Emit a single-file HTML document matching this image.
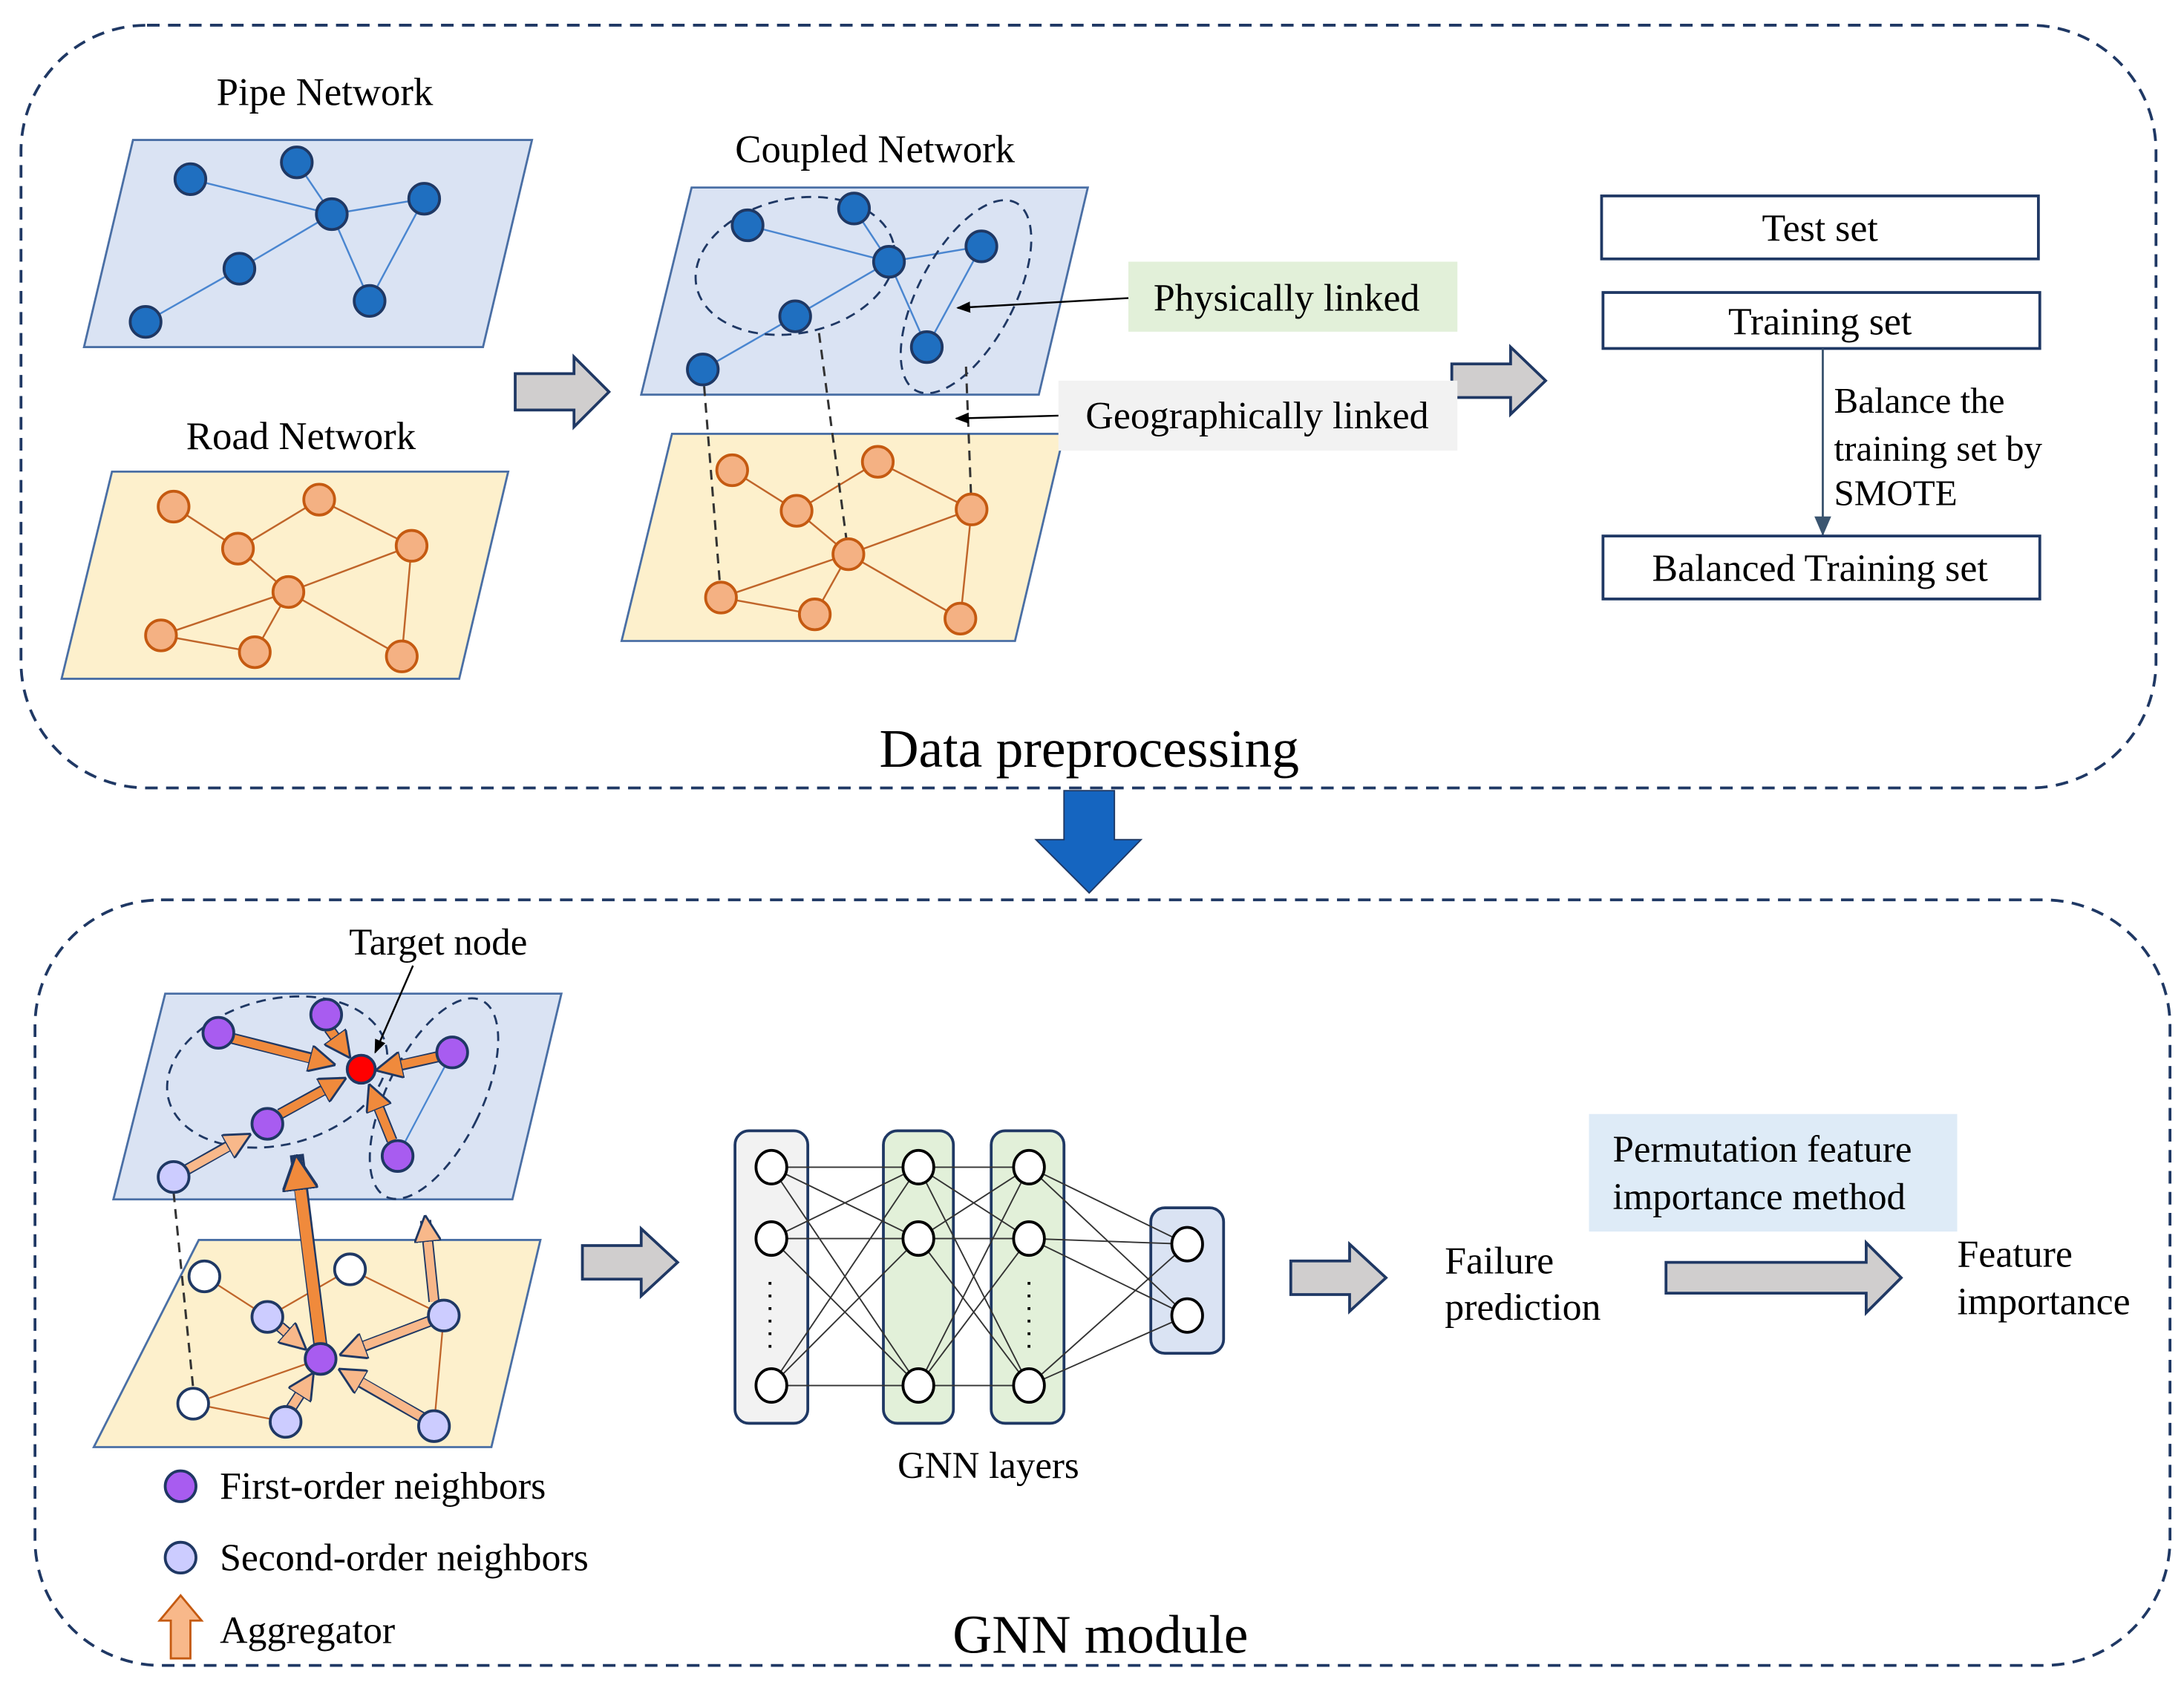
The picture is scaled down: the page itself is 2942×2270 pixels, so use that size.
<!DOCTYPE html>
<html><head><meta charset="utf-8"><style>html,body{margin:0;padding:0;background:#fff}svg{display:block}</style></head>
<body>
<svg width="2942" height="2270" viewBox="0 0 1560 1204" preserveAspectRatio="none" xmlns="http://www.w3.org/2000/svg" font-family="'Liberation Serif', serif" fill="#000">
<defs>
<marker id="ah" markerWidth="10" markerHeight="10" refX="9" refY="5" orient="auto" markerUnits="userSpaceOnUse"><path d="M0,1 L10,5 L0,9 Z" fill="#000"/></marker>
<marker id="ab" markerWidth="14" markerHeight="14" refX="13" refY="7" orient="auto" markerUnits="userSpaceOnUse"><path d="M0,1 L14,7 L0,13 Z" fill="#3b5570"/></marker>
<marker id="ao" viewBox="0 0 10 10" markerWidth="3.2" markerHeight="3.2" refX="8" refY="5" orient="auto"><path d="M0,0 L10,5 L0,10 Z" fill="#f08a3c" stroke="#1f3864" stroke-width="0.8"/></marker>
<marker id="al" viewBox="0 0 10 10" markerWidth="3.2" markerHeight="3.2" refX="8" refY="5" orient="auto"><path d="M0,0 L10,5 L0,10 Z" fill="#f8b88a" stroke="#1f3864" stroke-width="0.8"/></marker>
</defs>

<rect x="15" y="18" width="1525" height="545" rx="90" fill="none" stroke="#1f3864" stroke-width="2" stroke-dasharray="9,6"/>
<rect x="25" y="643" width="1525" height="547" rx="90" fill="none" stroke="#1f3864" stroke-width="2" stroke-dasharray="9,6"/>

<text x="232" y="75" font-size="28" text-anchor="middle">Pipe Network</text>
<polygon points="95,100 380,100 345,248 60,248" fill="#dae3f3" stroke="#4a6fa5" stroke-width="1.5"/>
<g stroke="#4a86d0" stroke-width="1.3">
<line x1="136" y1="128" x2="237" y2="153"/><line x1="212" y1="116" x2="237" y2="153"/><line x1="237" y1="153" x2="303" y2="142"/><line x1="237" y1="153" x2="171" y2="192"/><line x1="171" y1="192" x2="104" y2="230"/><line x1="237" y1="153" x2="264" y2="215"/><line x1="264" y1="215" x2="303" y2="142"/>
</g>
<g fill="#1f6fc0" stroke="#1f3864" stroke-width="2">
<circle cx="136" cy="128" r="11"/><circle cx="212" cy="116" r="11"/><circle cx="237" cy="153" r="11"/><circle cx="303" cy="142" r="11"/><circle cx="171" cy="192" r="11"/><circle cx="264" cy="215" r="11"/><circle cx="104" cy="230" r="11"/>
</g>

<text x="215" y="321" font-size="28" text-anchor="middle">Road Network</text>
<polygon points="80,337 363,337 328,485 44,485" fill="#fdf0cc" stroke="#4a6fa5" stroke-width="1.5"/>
<g stroke="#c0652a" stroke-width="1.3">
<line x1="124" y1="362" x2="170" y2="392"/><line x1="170" y1="392" x2="228" y2="357"/><line x1="228" y1="357" x2="294" y2="390"/><line x1="170" y1="392" x2="206" y2="423"/><line x1="206" y1="423" x2="115" y2="454"/><line x1="206" y1="423" x2="182" y2="466"/><line x1="206" y1="423" x2="294" y2="390"/><line x1="206" y1="423" x2="287" y2="469"/><line x1="294" y1="390" x2="287" y2="469"/><line x1="115" y1="454" x2="182" y2="466"/>
</g>
<g fill="#f4b183" stroke="#c55a11" stroke-width="2">
<circle cx="124" cy="362" r="11"/><circle cx="228" cy="357" r="11"/><circle cx="170" cy="392" r="11"/><circle cx="294" cy="390" r="11"/><circle cx="206" cy="423" r="11"/><circle cx="115" cy="454" r="11"/><circle cx="182" cy="466" r="11"/><circle cx="287" cy="469" r="11"/>
</g>

<polygon points="368,267 410,267 410,255 435,280 410,305 410,293 368,293" fill="#d0cece" stroke="#1f3864" stroke-width="2"/>
<polygon points="1037,260 1079,260 1079,248 1104,272 1079,296 1079,284 1037,284" fill="#d0cece" stroke="#1f3864" stroke-width="2"/>

<text x="625" y="116" font-size="28" text-anchor="middle">Coupled Network</text>
<polygon points="480,310 760,310 725,458 444,458" fill="#fdf0cc" stroke="#4a6fa5" stroke-width="1.5"/>
<polygon points="494,134 777,134 742,282 458,282" fill="#dae3f3" stroke="#4a6fa5" stroke-width="1.5"/>
<g stroke="#4a86d0" stroke-width="1.3">
<line x1="534" y1="161" x2="635" y2="187"/><line x1="610" y1="149" x2="635" y2="187"/><line x1="635" y1="187" x2="701" y2="176"/><line x1="635" y1="187" x2="568" y2="226"/><line x1="568" y1="226" x2="502" y2="264"/><line x1="635" y1="187" x2="662" y2="248"/><line x1="662" y1="248" x2="701" y2="176"/>
</g>
<ellipse cx="568" cy="190" rx="72" ry="48" transform="rotate(-12 568 190)" fill="none" stroke="#1f3864" stroke-width="1.5" stroke-dasharray="7,5"/>
<ellipse cx="690" cy="212" rx="34" ry="76" transform="rotate(28 690 212)" fill="none" stroke="#1f3864" stroke-width="1.5" stroke-dasharray="7,5"/>
<g stroke="#c0652a" stroke-width="1.3">
<line x1="523" y1="336" x2="569" y2="365"/><line x1="569" y1="365" x2="627" y2="330"/><line x1="627" y1="330" x2="694" y2="364"/><line x1="569" y1="365" x2="606" y2="396"/><line x1="606" y1="396" x2="515" y2="427"/><line x1="606" y1="396" x2="582" y2="439"/><line x1="606" y1="396" x2="694" y2="364"/><line x1="606" y1="396" x2="686" y2="442"/><line x1="694" y1="364" x2="686" y2="442"/><line x1="515" y1="427" x2="582" y2="439"/>
</g>
<g stroke="#333" stroke-width="1.6" stroke-dasharray="7,5">
<line x1="502" y1="264" x2="515" y2="427"/><line x1="585" y1="238" x2="606" y2="396"/><line x1="690" y1="262" x2="694" y2="364"/>
</g>
<g fill="#1f6fc0" stroke="#1f3864" stroke-width="2">
<circle cx="534" cy="161" r="11"/><circle cx="610" cy="149" r="11"/><circle cx="635" cy="187" r="11"/><circle cx="701" cy="176" r="11"/><circle cx="568" cy="226" r="11"/><circle cx="662" cy="248" r="11"/><circle cx="502" cy="264" r="11"/>
</g>
<g fill="#f4b183" stroke="#c55a11" stroke-width="2">
<circle cx="523" cy="336" r="11"/><circle cx="627" cy="330" r="11"/><circle cx="569" cy="365" r="11"/><circle cx="694" cy="364" r="11"/><circle cx="606" cy="396" r="11"/><circle cx="515" cy="427" r="11"/><circle cx="582" cy="439" r="11"/><circle cx="686" cy="442" r="11"/>
</g>
<rect x="806" y="187" width="235" height="50" fill="#e2f0d9"/>
<text x="919" y="222" font-size="27.5" text-anchor="middle">Physically linked</text>
<line x1="806" y1="213" x2="684" y2="220" stroke="#000" stroke-width="1.3" marker-end="url(#ah)"/>
<rect x="756" y="272" width="285" height="50" fill="#f2f2f2"/>
<text x="898" y="306" font-size="27.5" text-anchor="middle">Geographically linked</text>
<line x1="756" y1="297" x2="683" y2="299" stroke="#000" stroke-width="1.3" marker-end="url(#ah)"/>

<rect x="1144" y="140" width="312" height="45" fill="#fff" stroke="#1f3864" stroke-width="2"/>
<text x="1300" y="172" font-size="27.5" text-anchor="middle">Test set</text>
<rect x="1145" y="209" width="312" height="40" fill="#fff" stroke="#1f3864" stroke-width="2"/>
<text x="1300" y="239" font-size="27.5" text-anchor="middle">Training set</text>
<line x1="1302" y1="249" x2="1302" y2="382" stroke="#3b5570" stroke-width="1.5" marker-end="url(#ab)"/>
<text font-size="26"><tspan x="1310" y="295">Balance the</tspan><tspan x="1310" y="329">training set by</tspan><tspan x="1310" y="361">SMOTE</tspan></text>
<rect x="1145" y="383" width="312" height="45" fill="#fff" stroke="#1f3864" stroke-width="2"/>
<text x="1300" y="415" font-size="27.5" text-anchor="middle">Balanced Training set</text>

<text x="778" y="548" font-size="39" text-anchor="middle">Data preprocessing</text>

<polygon points="760,565 796,565 796,600 815,600 778,638 740,600 760,600" fill="#1565c0" stroke="#1f3864" stroke-width="1"/>

<text x="313" y="682" font-size="27" text-anchor="middle">Target node</text>
<polygon points="142,886 386,886 351,1034 67,1034" fill="#fdf0cc" stroke="#4a6fa5" stroke-width="1.5"/>
<polygon points="118,710 401,710 366,857 81,857" fill="#dae3f3" stroke="#4a6fa5" stroke-width="1.5"/>
<line x1="284" y1="826" x2="323" y2="752" stroke="#4a86d0" stroke-width="1.2"/>
<ellipse cx="198" cy="766" rx="80" ry="52" transform="rotate(-14 198 766)" fill="none" stroke="#1f3864" stroke-width="1.5" stroke-dasharray="7,5"/>
<ellipse cx="310" cy="785" rx="34" ry="78" transform="rotate(26 310 785)" fill="none" stroke="#1f3864" stroke-width="1.5" stroke-dasharray="7,5"/>
<g stroke="#c0652a" stroke-width="1.2">
<line x1="146" y1="912" x2="191" y2="941"/><line x1="191" y1="941" x2="250" y2="907"/><line x1="250" y1="907" x2="317" y2="940"/><line x1="229" y1="971" x2="138" y2="1003"/><line x1="138" y1="1003" x2="204" y2="1016"/><line x1="317" y1="940" x2="310" y2="1019"/>
</g>
<line x1="124" y1="852" x2="138" y2="992" stroke="#333" stroke-width="1.6" stroke-dasharray="7,5"/>
<line x1="229" y1="962" x2="212" y2="825" stroke="#1f3864" stroke-width="10"/>
<line x1="229" y1="962" x2="212" y2="830" stroke="#f08a3c" stroke-width="8" marker-end="url(#ao)"/>
<line x1="310" y1="930" x2="304" y2="872" stroke="#1f3864" stroke-width="8"/>
<line x1="310" y1="930" x2="304" y2="872" stroke="#f8b88a" stroke-width="6" marker-end="url(#al)"/>
<g stroke-width="8" stroke="#1f3864">
<line x1="166" y1="742" x2="230" y2="758"/><line x1="235" y1="735" x2="245" y2="749"/><line x1="313" y1="755" x2="278" y2="763"/><line x1="200" y1="796" x2="238" y2="775"/><line x1="280" y1="815" x2="268" y2="785"/><line x1="133" y1="836" x2="170" y2="815"/><line x1="200" y1="948" x2="212" y2="958"/><line x1="307" y1="944" x2="252" y2="965"/><line x1="208" y1="1006" x2="219" y2="989"/><line x1="302" y1="1013" x2="251" y2="984"/>
</g>
<g stroke-width="6">
<line x1="166" y1="742" x2="236" y2="760" stroke="#f08a3c" marker-end="url(#ao)"/>
<line x1="235" y1="735" x2="248" y2="753" stroke="#f08a3c" marker-end="url(#ao)"/>
<line x1="313" y1="755" x2="272" y2="764" stroke="#f08a3c" marker-end="url(#ao)"/>
<line x1="200" y1="796" x2="244" y2="772" stroke="#f08a3c" marker-end="url(#ao)"/>
<line x1="280" y1="815" x2="265" y2="778" stroke="#f08a3c" marker-end="url(#ao)"/>
<line x1="133" y1="836" x2="176" y2="812" stroke="#f8b88a" marker-end="url(#al)"/>
<line x1="200" y1="948" x2="216" y2="962" stroke="#f8b88a" marker-end="url(#al)"/>
<line x1="307" y1="944" x2="246" y2="967" stroke="#f8b88a" marker-end="url(#al)"/>
<line x1="208" y1="1006" x2="222" y2="984" stroke="#f8b88a" marker-end="url(#al)"/>
<line x1="302" y1="1013" x2="245" y2="980" stroke="#f8b88a" marker-end="url(#al)"/>
</g>
<g stroke="#1f3864" stroke-width="2">
<circle cx="146" cy="912" r="11" fill="#fff"/><circle cx="250" cy="907" r="11" fill="#fff"/><circle cx="138" cy="1003" r="11" fill="#fff"/>
<g fill="#ccccff"><circle cx="191" cy="941" r="11"/><circle cx="317" cy="940" r="11"/><circle cx="204" cy="1016" r="11"/><circle cx="310" cy="1019" r="11"/><circle cx="124" cy="841" r="11"/></g>
<g fill="#a85cf0"><circle cx="229" cy="971" r="11"/><circle cx="156" cy="738" r="11"/><circle cx="233" cy="725" r="11"/><circle cx="323" cy="752" r="11"/><circle cx="191" cy="803" r="11"/><circle cx="284" cy="826" r="11"/></g>
<circle cx="258" cy="764" r="10" fill="#ff0000"/>
</g>
<line x1="295" y1="690" x2="268" y2="752" stroke="#000" stroke-width="1.3" marker-end="url(#ah)"/>

<circle cx="129" cy="1062" r="11" fill="#a85cf0" stroke="#1f3864" stroke-width="2"/>
<text x="157" y="1071" font-size="27.5">First-order neighbors</text>
<circle cx="129" cy="1113" r="11" fill="#ccccff" stroke="#1f3864" stroke-width="2"/>
<text x="157" y="1122" font-size="27.5">Second-order neighbors</text>
<polygon points="129,1140 144,1158 136,1158 136,1185 122,1185 122,1158 114,1158" fill="#f8b88a" stroke="#c55a11" stroke-width="1.5"/>
<text x="157" y="1174" font-size="27.5">Aggregator</text>

<polygon points="416,890 458,890 458,878 484,902 458,926 458,914 416,914" fill="#d0cece" stroke="#1f3864" stroke-width="2"/>
<polygon points="922,901 964,901 964,889 990,913 964,937 964,925 922,925" fill="#d0cece" stroke="#1f3864" stroke-width="2"/>
<polygon points="1190,902 1333,902 1333,888 1358,913 1333,938 1333,924 1190,924" fill="#d0cece" stroke="#1f3864" stroke-width="2"/>

<rect x="525" y="808" width="52" height="209" rx="10" fill="#f2f2f2" stroke="#1f3864" stroke-width="2"/>
<rect x="631" y="808" width="50" height="209" rx="10" fill="#e2f0d9" stroke="#1f3864" stroke-width="2"/>
<rect x="708" y="808" width="52" height="209" rx="10" fill="#e2f0d9" stroke="#1f3864" stroke-width="2"/>
<rect x="822" y="863" width="52" height="104" rx="10" fill="#dae3f3" stroke="#1f3864" stroke-width="2"/>
<g stroke="#333" stroke-width="1">
<line x1="551" y1="834" x2="656" y2="834"/><line x1="551" y1="834" x2="656" y2="885"/><line x1="551" y1="834" x2="656" y2="990"/>
<line x1="551" y1="885" x2="656" y2="834"/><line x1="551" y1="885" x2="656" y2="885"/><line x1="551" y1="885" x2="656" y2="990"/>
<line x1="551" y1="990" x2="656" y2="834"/><line x1="551" y1="990" x2="656" y2="885"/><line x1="551" y1="990" x2="656" y2="990"/>
<line x1="656" y1="834" x2="735" y2="834"/><line x1="656" y1="834" x2="735" y2="885"/><line x1="656" y1="834" x2="735" y2="990"/>
<line x1="656" y1="885" x2="735" y2="834"/><line x1="656" y1="885" x2="735" y2="885"/><line x1="656" y1="885" x2="735" y2="990"/>
<line x1="656" y1="990" x2="735" y2="834"/><line x1="656" y1="990" x2="735" y2="885"/><line x1="656" y1="990" x2="735" y2="990"/>
<line x1="735" y1="834" x2="848" y2="889"/><line x1="735" y1="834" x2="848" y2="940"/>
<line x1="735" y1="885" x2="848" y2="889"/><line x1="735" y1="885" x2="848" y2="940"/>
<line x1="735" y1="990" x2="848" y2="889"/><line x1="735" y1="990" x2="848" y2="940"/>
</g>
<g fill="#fff" stroke="#000" stroke-width="2">
<ellipse cx="551" cy="834" rx="11" ry="12"/><ellipse cx="551" cy="885" rx="11" ry="12"/><ellipse cx="551" cy="990" rx="11" ry="12"/>
<ellipse cx="656" cy="834" rx="11" ry="12"/><ellipse cx="656" cy="885" rx="11" ry="12"/><ellipse cx="656" cy="990" rx="11" ry="12"/>
<ellipse cx="735" cy="834" rx="11" ry="12"/><ellipse cx="735" cy="885" rx="11" ry="12"/><ellipse cx="735" cy="990" rx="11" ry="12"/>
<ellipse cx="848" cy="889" rx="11" ry="12"/><ellipse cx="848" cy="940" rx="11" ry="12"/>
</g>
<line x1="550" y1="916" x2="550" y2="966" stroke="#000" stroke-width="2" stroke-dasharray="2,7"/>
<line x1="735" y1="916" x2="735" y2="966" stroke="#000" stroke-width="2" stroke-dasharray="2,7"/>
<text x="706" y="1056" font-size="27" text-anchor="middle">GNN  layers</text>

<text font-size="27.5"><tspan x="1032" y="910">Failure</tspan><tspan x="1032" y="943">prediction</tspan></text>
<rect x="1135" y="796" width="263" height="84" fill="#deebf7"/>
<text font-size="27"><tspan x="1152" y="830">Permutation feature</tspan><tspan x="1152" y="864">importance method</tspan></text>
<text font-size="27.5"><tspan x="1398" y="905">Feature</tspan><tspan x="1398" y="939">importance</tspan></text>

<text x="786" y="1181" font-size="39" text-anchor="middle">GNN module</text>
</svg>
</body></html>
